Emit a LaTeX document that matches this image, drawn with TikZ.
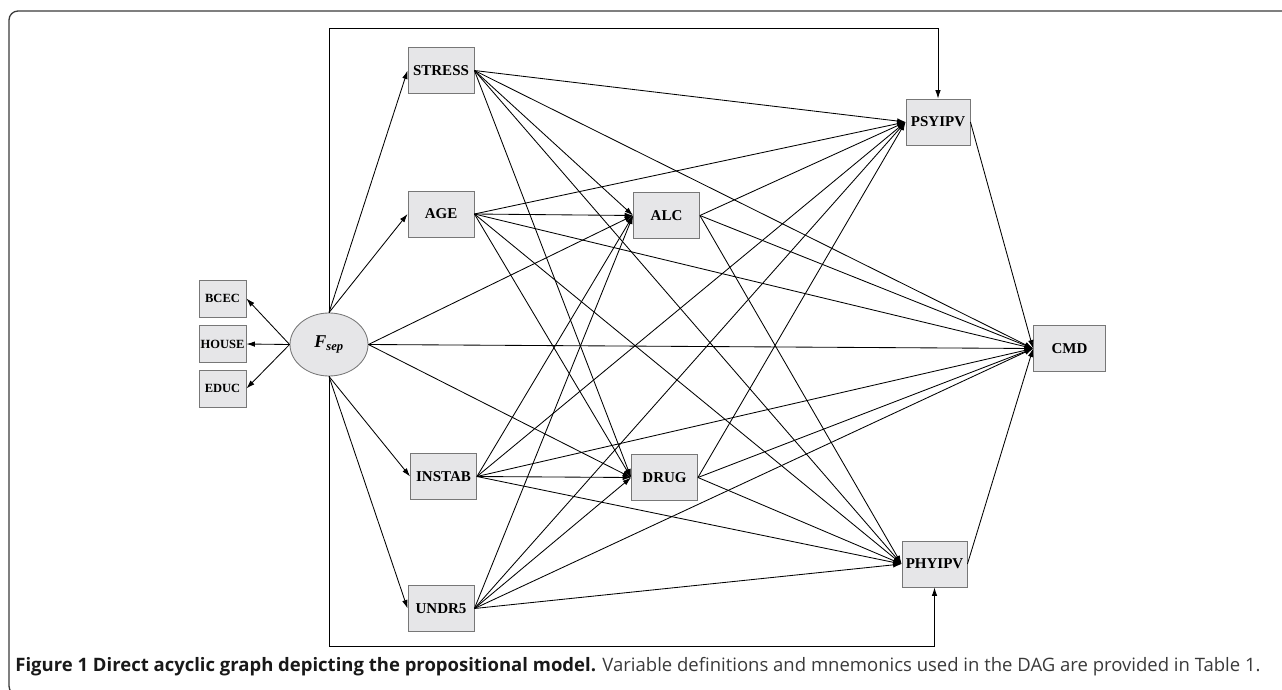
\documentclass[tikz,border=0pt]{standalone}
\usepackage{fontspec}
\setmainfont{Liberation Serif}
\newfontfamily\capfont{Open Sans}
\usetikzlibrary{arrows.meta}
\usetikzlibrary{shapes}
\definecolor{box-gray}{HTML}{E6E6E8}
\definecolor{box-line}{HTML}{777777}
\definecolor{cap-gray}{HTML}{3A3A3A}

\begin{document}
\begin{tikzpicture}[x=1pt, y=-1pt, line width=0.85pt, >={Latex[length=8.5pt,width=5.5pt]},
  every edge/.style={draw, ->},
  var/.style={draw=box-line, fill=box-gray, minimum width=66pt, minimum height=46pt, inner sep=0pt, font=\fontsize{15}{17}\selectfont\bfseries},
  ind/.style={var, minimum width=47pt, minimum height=37pt, font=\fontsize{12.5}{14}\selectfont\bfseries}]
\useasboundingbox (0,0) rectangle (1282,690);

% page frame
\draw[cap-gray, line width=1.3pt, rounded corners=9pt] (1290,11) -- (9,11) -- (9,695) -- (60,695);

\node[ind] (bcec) at (222.5, 298.5) {BCEC};
\node[ind] (house) at (222.5, 344) {HOUSE};
\node[ind] (educ) at (222.5, 388.5) {EDUC};

\node[ellipse, draw=box-line, fill=box-gray, minimum width=78pt, minimum height=63pt, inner sep=0pt] (fsep) at (329, 344.5) {\fontsize{18}{20}\selectfont\bfseries\itshape F\textsubscript{sep}};

\node[var] (stress) at (441, 70.5) {STRESS};
\node[var] (age) at (441, 214) {AGE};
\node[var] (instab) at (443.5, 476.5) {INSTAB};
\node[var] (undr5) at (441, 608.5) {UNDR5};

\node[var] (alc) at (666.5, 215.5) {ALC};
\node[var] (drug) at (664.5, 477.5) {DRUG};

\node[var, minimum width=64pt] (psyipv) at (938, 122) {PSYIPV};
\node[var, minimum width=65pt] (phyipv) at (934.5, 564) {PHYIPV};
\node[var, minimum width=72pt] (cmd) at (1069.5, 348.5) {CMD};

\coordinate (looptop) at (0, 28);
\coordinate (loopbot) at (0, 646);

\path (fsep.west) edge (bcec.east) edge (house.east) edge (educ.east);
\path (fsep.north) edge (stress.west) edge (age.west);
\path (fsep.south) edge (instab.west) edge (undr5.west);
\path (fsep.east) edge (alc.west) edge (drug.west) edge (cmd.west);
\draw[->] (fsep.north) -- (fsep.north |- looptop) -| (psyipv.north);
\draw[->] (fsep.south) -- (fsep.south |- loopbot) -| (phyipv.south);

\path (stress.east) edge (alc.west) edge (drug.west) edge (psyipv.west) edge (phyipv.west) edge (cmd.west);
\path (age.east) edge (alc.west) edge (drug.west) edge (psyipv.west) edge (phyipv.west) edge (cmd.west);
\path (instab.east) edge (alc.west) edge (drug.west) edge (psyipv.west) edge (phyipv.west) edge (cmd.west);
\path (undr5.east) edge (alc.west) edge (drug.west) edge (psyipv.west) edge (phyipv.west) edge (cmd.west);

\path (alc.east) edge (psyipv.west) edge (phyipv.west) edge (cmd.west);
\path (drug.east) edge (psyipv.west) edge (phyipv.west) edge (cmd.west);
\path (psyipv.east) edge (cmd.west);
\path (phyipv.east) edge (cmd.west);

\node[anchor=west, inner sep=0pt, text=cap-gray, font=\capfont\fontsize{18.5}{21}\selectfont] (caption) at (15, 667) {{\bfseries\color{black!90}Figure 1 Direct acyclic graph depicting the propositional model.} Variable definitions and mnemonics used in the DAG are provided in Table 1.};
\end{tikzpicture}
\end{document}
